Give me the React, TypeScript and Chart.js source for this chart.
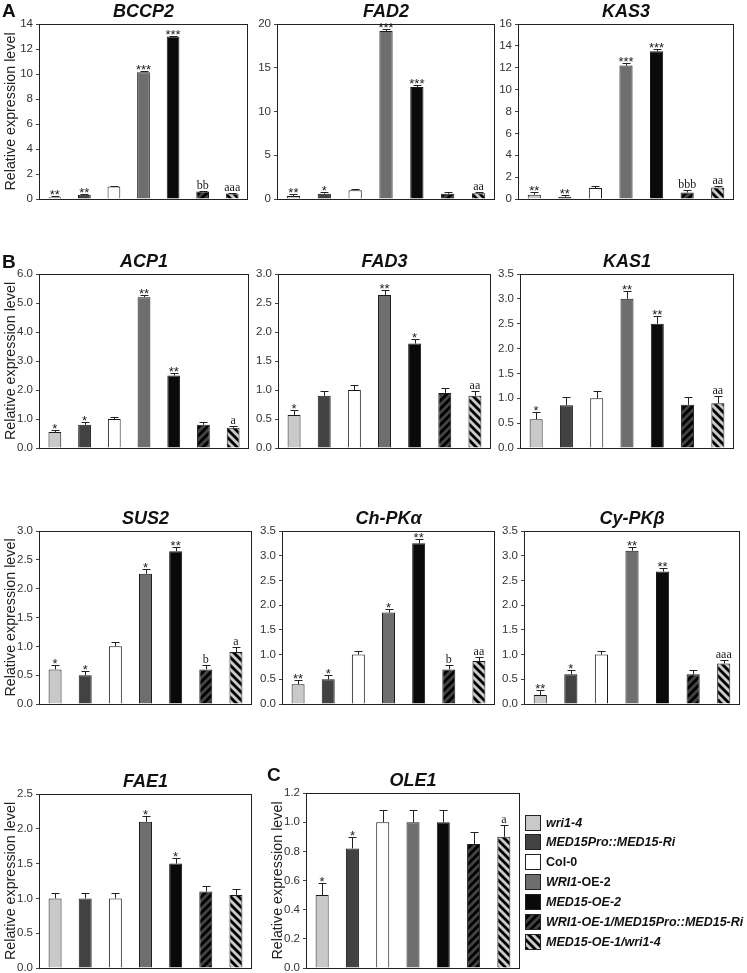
import React, { useEffect, useRef } from "react";
import { Chart, registerables } from "chart.js";

Chart.register(...registerables);

const FONT = '"Liberation Sans", Arial, Helvetica, sans-serif';
const SERIF = '"Liberation Serif", "Times New Roman", serif';

// ---------- data ----------
const genotypes = [
  "wri1-4",
  "MED15Pro::MED15-Ri",
  "Col-0",
  "WRI1-OE-2",
  "MED15-OE-2",
  "WRI1-OE-1/MED15Pro::MED15-Ri",
  "MED15-OE-1/wri1-4",
];

const bccp2Values = [0.15, 0.35, 1.0, 10.15, 13.0, 0.6, 0.45];
const bccp2Errors = [0.06, 0.06, 0.06, 0.06, 0.06, 0.06, 0.06];
const bccp2Marks = ["**", "**", "", "***", "***", "bb", "aaa"];

const fad2Values = [0.35, 0.6, 1.0, 19.2, 12.8, 0.6, 0.65];
const fad2Errors = [0.2, 0.2, 0.15, 0.2, 0.25, 0.2, 0.15];
const fad2Marks = ["**", "*", "", "***", "***", "", "aa"];

const kas3Values = [0.4, 0.2, 1.0, 12.2, 13.5, 0.6, 1.05];
const kas3Errors = [0.2, 0.2, 0.2, 0.2, 0.2, 0.2, 0.15];
const kas3Marks = ["**", "**", "", "***", "***", "bbb", "aa"];

const acp1Values = [0.55, 0.8, 1.0, 5.2, 2.5, 0.8, 0.7];
const acp1Errors = [0.08, 0.08, 0.08, 0.08, 0.08, 0.08, 0.07];
const acp1Marks = ["*", "*", "", "**", "**", "", "a"];

const fad3Values = [0.57, 0.9, 1.0, 2.64, 1.8, 0.95, 0.9];
const fad3Errors = [0.08, 0.08, 0.08, 0.08, 0.08, 0.08, 0.08];
const fad3Marks = ["*", "", "", "**", "*", "", "aa"];

const kas1Values = [0.58, 0.86, 1.0, 3.0, 2.5, 0.87, 0.9];
const kas1Errors = [0.15, 0.16, 0.15, 0.15, 0.15, 0.15, 0.15];
const kas1Marks = ["*", "", "", "**", "**", "", "aa"];

const sus2Values = [0.6, 0.5, 1.0, 2.26, 2.65, 0.6, 0.9];
const sus2Errors = [0.08, 0.08, 0.08, 0.08, 0.08, 0.08, 0.08];
const sus2Marks = ["*", "*", "", "*", "**", "b", "a"];

const chpkValues = [0.4, 0.5, 1.0, 1.85, 3.25, 0.7, 0.87];
const chpkErrors = [0.08, 0.08, 0.08, 0.08, 0.08, 0.08, 0.08];
const chpkMarks = ["**", "*", "", "*", "**", "b", "aa"];

const cypkValues = [0.18, 0.6, 1.0, 3.1, 2.68, 0.6, 0.82];
const cypkErrors = [0.1, 0.08, 0.08, 0.08, 0.08, 0.08, 0.08];
const cypkMarks = ["**", "*", "", "**", "**", "", "aaa"];

const fae1Values = [1.0, 1.0, 1.0, 2.1, 1.5, 1.1, 1.05];
const fae1Errors = [0.08, 0.08, 0.08, 0.08, 0.08, 0.08, 0.08];
const fae1Marks = ["", "", "", "*", "*", "", ""];

const ole1Values = [0.5, 0.82, 1.0, 1.0, 1.0, 0.85, 0.9];
const ole1Errors = [0.08, 0.08, 0.08, 0.08, 0.08, 0.08, 0.08];
const ole1Marks = ["*", "*", "", "", "", "", "a"];

const legendSegments: [string, boolean][][] = [
  [["wri1-4", true]],
  [["MED15Pro::MED15-Ri", true]],
  [["Col-0", false]],
  [["WRI1", true], ["-OE-2", false]],
  [["MED15-OE-2", true]],
  [["WRI1-OE-1/MED15Pro::MED15-Ri", true]],
  [["MED15-OE-1/wri1-4", true]],
];

// ---------- styles ----------
const baseColors = ["#c9c9c9", "#424242", "#ffffff", "#6e6e6e", "#0a0a0a", "#424242", "#c9c9c9"];
const hatchDirs = ["", "", "", "", "", "/", "\\"];

type PanelCfg = {
  title: string;
  values: number[];
  errors: number[];
  marks: string[];
  yMax: number;
  yStep: number;
  dec: number;
  rect: [number, number, number, number]; // L, T, R, B (page px)
  yTitle: boolean;
  letter?: [string, number, number];
  legend?: boolean;
};

const panels: PanelCfg[] = [
  { title: "BCCP2", values: bccp2Values, errors: bccp2Errors, marks: bccp2Marks, yMax: 14, yStep: 2, dec: 0, rect: [40, 24, 247, 199], yTitle: true, letter: ["A", 2, 17] },
  { title: "FAD2", values: fad2Values, errors: fad2Errors, marks: fad2Marks, yMax: 20, yStep: 5, dec: 0, rect: [278, 24, 494, 199], yTitle: false },
  { title: "KAS3", values: kas3Values, errors: kas3Errors, marks: kas3Marks, yMax: 16, yStep: 2, dec: 0, rect: [519, 24, 733, 199], yTitle: false },
  { title: "ACP1", values: acp1Values, errors: acp1Errors, marks: acp1Marks, yMax: 6, yStep: 1, dec: 1, rect: [40, 274, 248, 448], yTitle: true, letter: ["B", 2, 268] },
  { title: "FAD3", values: fad3Values, errors: fad3Errors, marks: fad3Marks, yMax: 3, yStep: 0.5, dec: 1, rect: [279, 274, 490, 448], yTitle: false },
  { title: "KAS1", values: kas1Values, errors: kas1Errors, marks: kas1Marks, yMax: 3.5, yStep: 0.5, dec: 1, rect: [521, 274, 733, 448], yTitle: false },
  { title: "SUS2", values: sus2Values, errors: sus2Errors, marks: sus2Marks, yMax: 3, yStep: 0.5, dec: 1, rect: [40, 531, 251, 704], yTitle: true },
  { title: "Ch-PKα", values: chpkValues, errors: chpkErrors, marks: chpkMarks, yMax: 3.5, yStep: 0.5, dec: 1, rect: [283, 531, 494, 704], yTitle: false },
  { title: "Cy-PKβ", values: cypkValues, errors: cypkErrors, marks: cypkMarks, yMax: 3.5, yStep: 0.5, dec: 1, rect: [525, 531, 739, 704], yTitle: false },
  { title: "FAE1", values: fae1Values, errors: fae1Errors, marks: fae1Marks, yMax: 2.5, yStep: 0.5, dec: 1, rect: [40, 794, 251, 968], yTitle: true },
  { title: "OLE1", values: ole1Values, errors: ole1Errors, marks: ole1Marks, yMax: 1.2, yStep: 0.2, dec: 1, rect: [307, 793, 519, 968], yTitle: true, letter: ["C", 267, 781], legend: true },
];

const AXIS_W = 40;
const PAD_T = 40;
const PAD_B = 10;
const PAD_R = 4;
const LEGEND_RIGHT = 747;

function makeFill(ctx: CanvasRenderingContext2D, base: string, dir: string): string | CanvasPattern {
  if (!dir) return base;
  const s = 8;
  const tile = document.createElement("canvas");
  tile.width = s;
  tile.height = s;
  const t = tile.getContext("2d")!;
  t.fillStyle = base;
  t.fillRect(0, 0, s, s);
  t.strokeStyle = "#000";
  t.lineWidth = 2.8;
  t.beginPath();
  if (dir === "/") {
    t.moveTo(0, s); t.lineTo(s, 0);
    t.moveTo(-s / 2, s / 2); t.lineTo(s / 2, -s / 2);
    t.moveTo(s / 2, s * 1.5); t.lineTo(s * 1.5, s / 2);
  } else {
    t.moveTo(0, 0); t.lineTo(s, s);
    t.moveTo(-s / 2, s / 2); t.lineTo(s / 2, s * 1.5);
    t.moveTo(s / 2, -s / 2); t.lineTo(s * 1.5, s / 2);
  }
  t.stroke();
  return ctx.createPattern(tile, "repeat") || base;
}

const decoPlugin = {
  id: "panelDeco",
  afterDatasetsDraw(chart: any, _args: any, opts: any) {
    const cfg: PanelCfg = opts.cfg;
    const fills = opts.fills;
    const { ctx, chartArea: ca } = chart;
    const y = chart.scales.y;
    const meta = chart.getDatasetMeta(0);
    ctx.save();
    // frame
    ctx.strokeStyle = "#222";
    ctx.lineWidth = 1;
    const l = Math.round(ca.left) - 0.5;
    const tp = Math.round(ca.top) + 0.5;
    const r = Math.round(ca.right) + 0.5;
    const b = Math.round(ca.bottom) + 0.5;
    ctx.strokeRect(l, tp, r - l, b - tp);
    // error bars + marks
    ctx.fillStyle = "#1a1a1a";
    ctx.textAlign = "center";
    meta.data.forEach((bar: any, i: number) => {
      const v = cfg.values[i];
      const e = cfg.errors[i];
      const x = Math.round(bar.x) + 0.5;
      const yv = y.getPixelForValue(v);
      const yt = Math.round(y.getPixelForValue(v + e)) + 0.5;
      ctx.strokeStyle = "#222";
      ctx.lineWidth = 1;
      ctx.beginPath();
      ctx.moveTo(x, yv);
      ctx.lineTo(x, yt);
      ctx.moveTo(x - 4, yt);
      ctx.lineTo(x + 4, yt);
      ctx.stroke();
      const m = cfg.marks[i];
      if (m) {
        if (m[0] === "*") {
          ctx.font = `13px ${FONT}`;
          ctx.textBaseline = "alphabetic";
          ctx.fillText(m, bar.x, yt + 2.5);
        } else {
          ctx.font = `12px ${SERIF}`;
          ctx.textBaseline = "alphabetic";
          ctx.fillText(m, bar.x, yt - 2.5);
        }
      }
    });
    // title
    ctx.fillStyle = "#111";
    ctx.font = `italic bold 18px ${FONT}`;
    ctx.textAlign = "center";
    ctx.textBaseline = "alphabetic";
    ctx.fillText(cfg.title, (ca.left + ca.right) / 2, ca.top - 7);
    // panel letter
    const cLeft = cfg.rect[0] - AXIS_W;
    const cTop = cfg.rect[1] - PAD_T;
    if (cfg.letter) {
      ctx.font = `bold 19px ${FONT}`;
      ctx.textAlign = "left";
      ctx.fillText(cfg.letter[0], cfg.letter[1] - cLeft, cfg.letter[2] - cTop);
    }
    // legend
    if (cfg.legend) {
      const rowCenters = [823, 842, 862, 882, 902, 922, 942];
      legendSegments.forEach((segs, i) => {
        const cy = rowCenters[i] - cTop;
        const sx = 525 - cLeft;
        ctx.fillStyle = fills[i];
        ctx.fillRect(sx, cy - 8, 16, 16);
        ctx.strokeStyle = "#222";
        ctx.lineWidth = 1;
        ctx.strokeRect(sx + 0.5, Math.round(cy - 8) + 0.5, 15, 15);
        let tx = 546 - cLeft;
        ctx.fillStyle = "#111";
        ctx.textAlign = "left";
        ctx.textBaseline = "middle";
        segs.forEach(([text, it]) => {
          ctx.font = `${it ? "italic " : ""}bold 12.5px ${FONT}`;
          ctx.fillText(text, tx, cy + 0.5);
          tx += ctx.measureText(text).width;
        });
      });
    }
    ctx.restore();
  },
};

function Panel({ cfg }: { cfg: PanelCfg }) {
  const ref = useRef<HTMLCanvasElement>(null);
  const [L, T, R, B] = cfg.rect;
  const padR = cfg.legend ? LEGEND_RIGHT - R : PAD_R;
  const left = L - AXIS_W;
  const top = T - PAD_T;
  const width = R - L + AXIS_W + padR;
  const height = B - T + PAD_T + PAD_B;

  useEffect(() => {
    const canvas = ref.current!;
    const ctx = canvas.getContext("2d")!;
    const fills = baseColors.map((c, i) => makeFill(ctx, c, hatchDirs[i]));
    const chart = new Chart(canvas, {
      type: "bar",
      data: {
        labels: genotypes,
        datasets: [
          {
            data: cfg.values,
            backgroundColor: fills as any,
            borderColor: "#1a1a1a",
            borderWidth: 1,
            barPercentage: 0.43,
            categoryPercentage: 1,
          },
        ],
      },
      options: {
        responsive: false,
        animation: false,
        devicePixelRatio: 1,
        layout: { padding: { top: PAD_T, right: padR, bottom: PAD_B, left: 0 } },
        plugins: {
          legend: { display: false },
          tooltip: { enabled: false },
          title: { display: false },
          panelDeco: { cfg, fills },
        } as any,
        scales: {
          x: { display: false },
          y: {
            min: 0,
            max: cfg.yMax,
            ticks: {
              stepSize: cfg.yStep,
              callback: (v: any) => Number(v).toFixed(cfg.dec),
              font: { family: FONT, size: 11.5 },
              color: "#333",
              padding: 3,
            },
            grid: { drawOnChartArea: false, drawTicks: true, tickLength: 4, color: "#444" },
            border: { display: false },
            title: {
              display: cfg.yTitle,
              text: "Relative expression level",
              font: { family: FONT, size: 14.3 },
              color: "#222",
              padding: { top: 2, bottom: 0 },
            },
            afterFit: (s: any) => {
              s.width = AXIS_W;
            },
          },
        },
      },
      plugins: [decoPlugin as any],
    });
    return () => chart.destroy();
  }, []);

  return (
    <canvas
      ref={ref}
      width={width}
      height={height}
      style={{ position: "absolute", left, top, width, height }}
    />
  );
}

export default function App() {
  return (
    <div
      style={{
        position: "absolute",
        left: 0,
        top: 0,
        width: 747,
        height: 973,
        overflow: "hidden",
        background: "#fff",
      }}
    >
      {panels.map((p) => (
        <Panel key={p.title} cfg={p} />
      ))}
    </div>
  );
}
